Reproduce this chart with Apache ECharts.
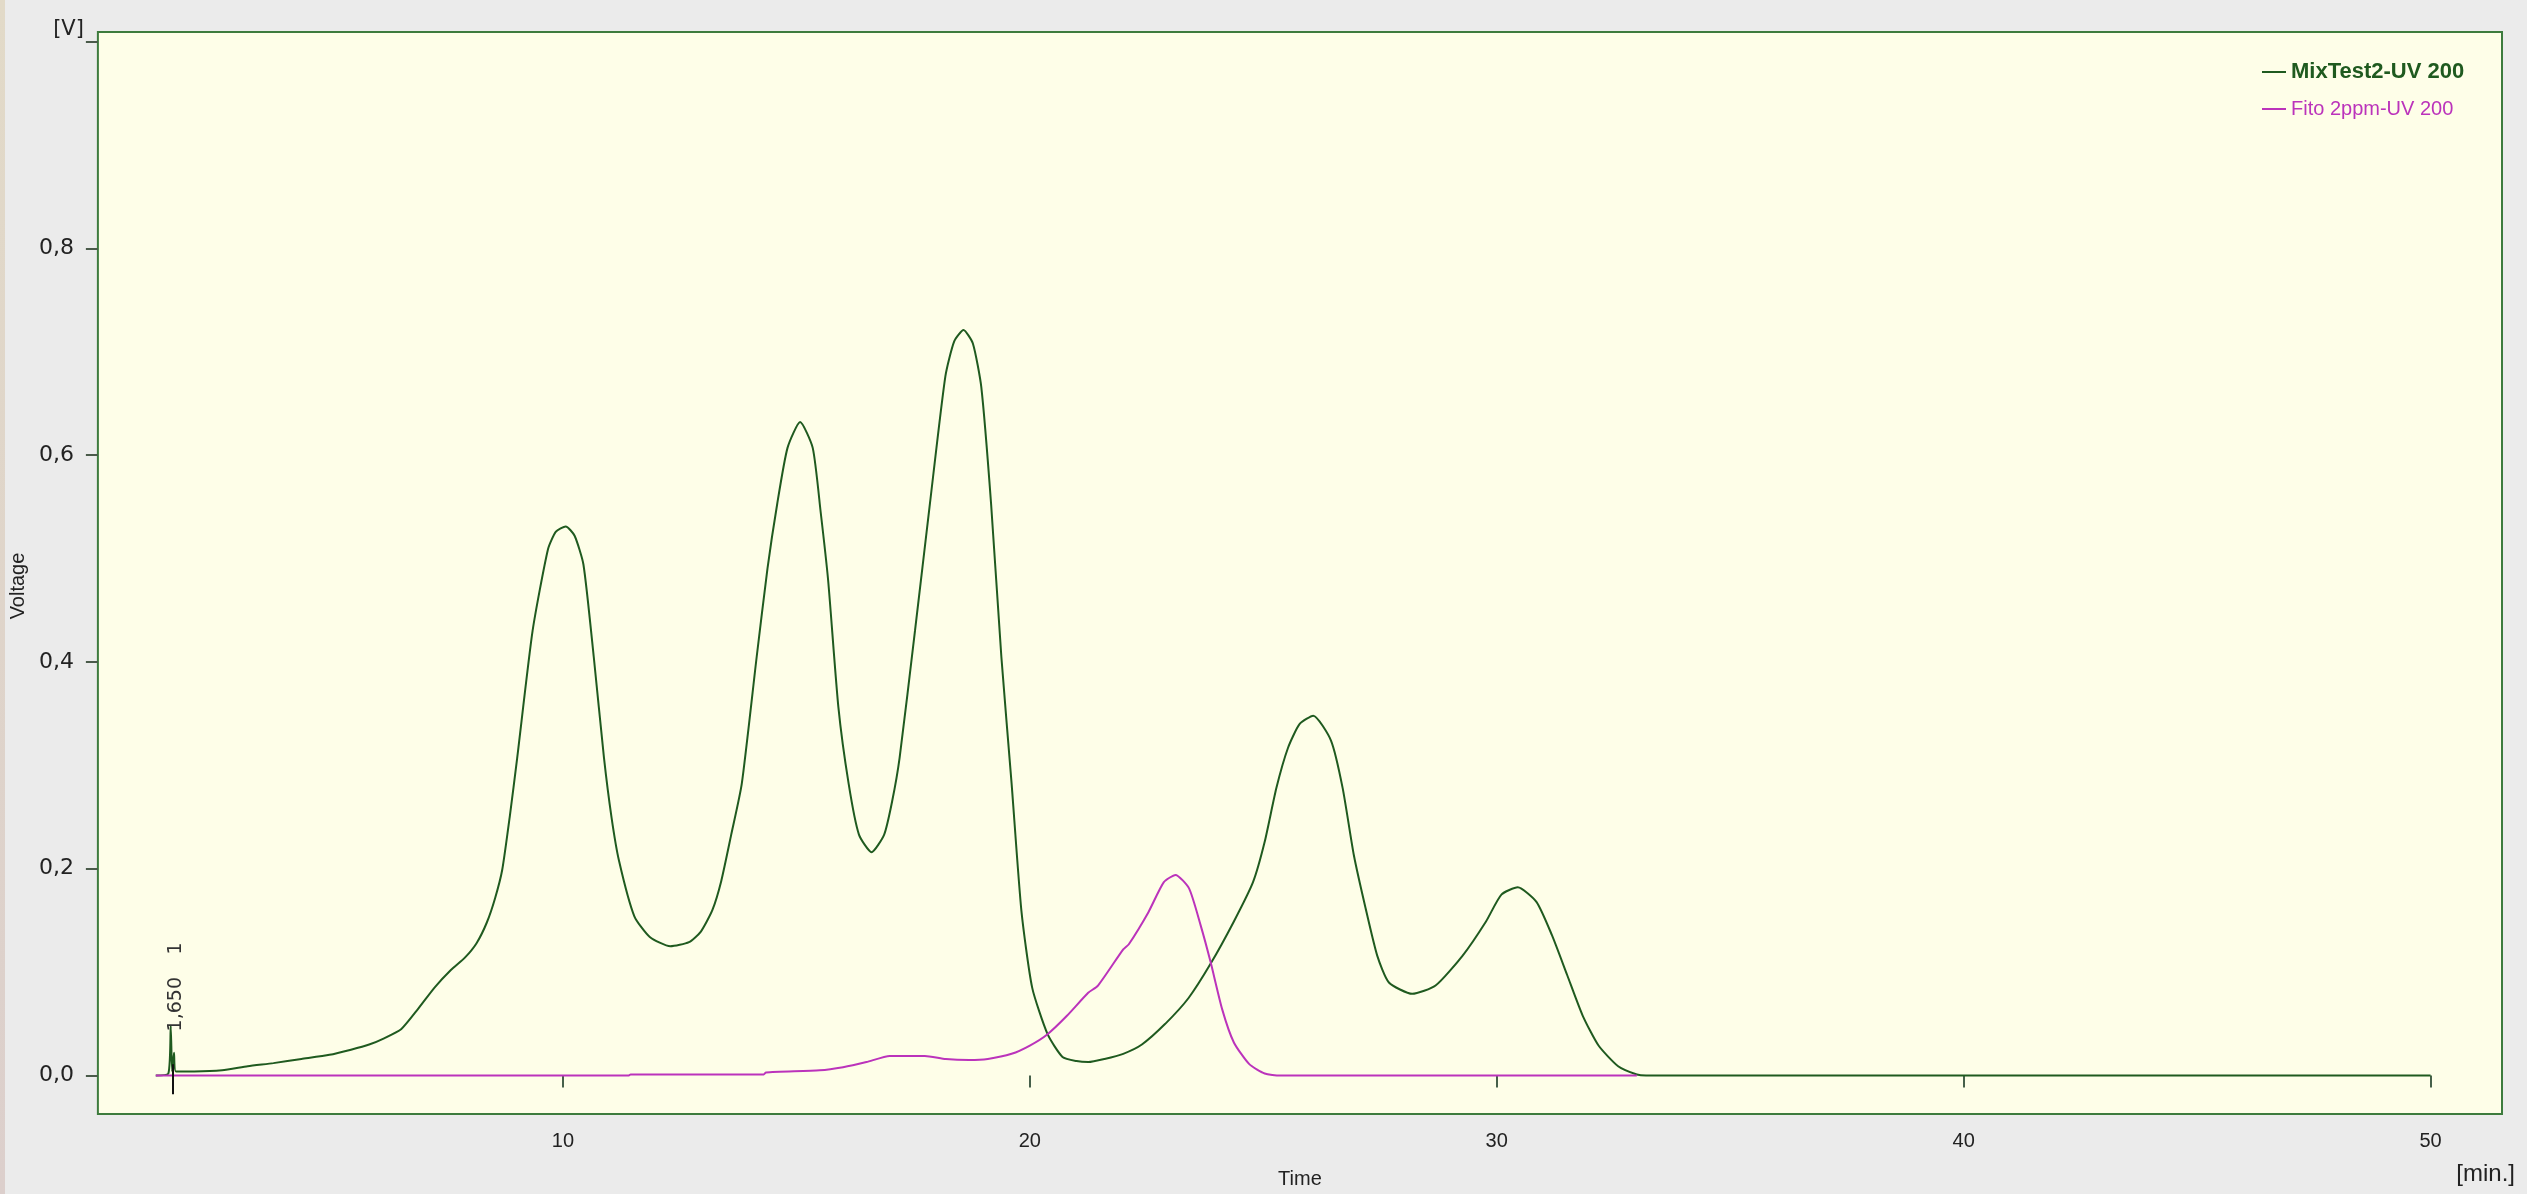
<!DOCTYPE html>
<html>
<head>
<meta charset="utf-8">
<script src="https://cdn.jsdelivr.net/npm/echarts@6/dist/echarts.min.js"></script>
<style>
  html, body { margin: 0; padding: 0; background: #ebebeb; }
  #chart { width: 2527px; height: 1194px; }
</style>
</head>
<body>
<div id="chart"></div>
<script>
// Detector traces: [time in min, signal in V]
const seriesNames = ['MixTest2-UV 200', 'Fito 2ppm-UV 200'];
const xTicks = [10, 20, 30, 40, 50];
const yTicks = [0, 0.2, 0.4, 0.6, 0.8, 1.0];

const mixTest2 = [
  [1.28, 0.000], [1.55, 0.002], [1.60, 0.048], [1.63, 0.004], [1.67, 0.022], [1.71, 0.004],
  [2.1, 0.004], [2.7, 0.005], [3.25, 0.009], [3.8, 0.012], [4.4, 0.016], [5.0, 0.020],
  [5.46, 0.025], [5.85, 0.030], [6.17, 0.036], [6.54, 0.045], [6.89, 0.064], [7.25, 0.085],
  [7.6, 0.102], [7.9, 0.114], [8.15, 0.128], [8.37, 0.148], [8.55, 0.172], [8.70, 0.199],
  [8.86, 0.250], [9.02, 0.307], [9.35, 0.430], [9.68, 0.509], [9.85, 0.526], [10.06, 0.531],
  [10.25, 0.522], [10.44, 0.494], [10.66, 0.405], [10.88, 0.307], [11.04, 0.250], [11.2, 0.208],
  [11.53, 0.154], [11.86, 0.134], [12.3, 0.125], [12.7, 0.129], [12.95, 0.139], [13.2, 0.160],
  [13.39, 0.188], [13.6, 0.232], [13.83, 0.282], [14.15, 0.405], [14.38, 0.490], [14.59, 0.553],
  [14.81, 0.607], [15.08, 0.632], [15.35, 0.607], [15.52, 0.545], [15.68, 0.479], [15.9, 0.356],
  [16.12, 0.282], [16.34, 0.233], [16.61, 0.216], [16.88, 0.233], [17.05, 0.265], [17.21, 0.307],
  [17.54, 0.430], [17.86, 0.553], [18.19, 0.676], [18.38, 0.710], [18.58, 0.721], [18.78, 0.708],
  [18.96, 0.666], [19.17, 0.553], [19.39, 0.405], [19.61, 0.282], [19.82, 0.159], [20.05, 0.085],
  [20.38, 0.040], [20.7, 0.018], [21.0, 0.014], [21.25, 0.013], [21.6, 0.016], [22.0, 0.021],
  [22.4, 0.030], [22.9, 0.050], [23.4, 0.075], [23.87, 0.108], [24.37, 0.149], [24.78, 0.187],
  [25.03, 0.226], [25.28, 0.278], [25.53, 0.317], [25.78, 0.340], [26.07, 0.348], [26.45, 0.324],
  [26.7, 0.278], [26.94, 0.213], [27.19, 0.162], [27.44, 0.116], [27.69, 0.090], [28.19, 0.079],
  [28.69, 0.087], [29.27, 0.116], [29.77, 0.149], [30.1, 0.175], [30.45, 0.182], [30.85, 0.168],
  [31.18, 0.136], [31.51, 0.097], [31.84, 0.058], [32.18, 0.029], [32.6, 0.009], [33.0, 0.001],
  [33.2, 0.000], [50.0, 0.000]
];

const fito2ppm = [
  [1.28, 0.000], [11.4, 0.000], [11.45, 0.001], [14.3, 0.001], [14.35, 0.003], [15.5, 0.005],
  [16.0, 0.008], [16.5, 0.013], [17.0, 0.019], [17.5, 0.019], [17.75, 0.019], [18.2, 0.016],
  [18.7, 0.015], [19.1, 0.016], [19.61, 0.021], [20.0, 0.029], [20.38, 0.040], [20.8, 0.058],
  [21.25, 0.080], [21.46, 0.087], [22.0, 0.122], [22.12, 0.127], [22.54, 0.158], [22.87, 0.187],
  [23.12, 0.194], [23.41, 0.181], [23.66, 0.145], [23.87, 0.110], [24.12, 0.064], [24.37, 0.032],
  [24.7, 0.011], [25.03, 0.002], [25.36, 0.000], [33.0, 0.000]
];

// Integration marker of the injection peak
const peakTime = 1.65;
const peakTimeLabel = '1,650';
const peakNumber = '1';

const axisFont = 'DejaVu Sans';
const textFont = 'Liberation Sans';
const green = '#1f5a1f';
const magenta = '#bb33bb';

const chart = echarts.init(document.getElementById('chart'), null, { renderer: 'canvas' });

chart.setOption({
  animation: false,
  backgroundColor: '#ebebeb',
  grid: {
    left: 97, right: 25, top: 32, bottom: 79,
    show: true,
    backgroundColor: '#fefee8',
    borderColor: '#3d7b3d',
    borderWidth: 2
  },
  legend: {
    orient: 'vertical',
    left: 2262, top: 60,
    padding: 0,
    itemWidth: 24, itemHeight: 2,
    itemGap: 13,
    itemTextGap: 10,
    icon: 'rect',
    textStyle: { fontFamily: textFont, fontSize: 20, lineHeight: 24 },
    data: [
      { name: seriesNames[0], textStyle: { color: green, fontWeight: 'bold', fontSize: 22 } },
      { name: seriesNames[1], textStyle: { color: magenta, fontSize: 20 } }
    ]
  },
  xAxis: {
    type: 'value',
    min: 0.04, max: 51.53,
    name: 'Time',
    nameLocation: 'middle',
    nameGap: 55,
    nameTextStyle: { fontFamily: textFont, fontSize: 20, color: '#222' },
    axisLine: { show: false },
    splitLine: { show: false },
    axisTick: { show: true, length: 12, customValues: xTicks, lineStyle: { color: '#46604a', width: 2 } },
    axisLabel: {
      customValues: xTicks,
      margin: 17,
      fontFamily: textFont, fontSize: 20, color: '#222',
      formatter: v => String(v)
    }
  },
  yAxis: {
    type: 'value',
    min: -0.0372, max: 1.0092,
    name: 'Voltage',
    nameLocation: 'middle',
    nameRotate: 90,
    nameGap: 64,
    nameTextStyle: { fontFamily: textFont, fontSize: 20, color: '#222', padding: [0, 26, 0, 0] },
    axisLine: { show: false },
    splitLine: { show: false },
    axisTick: { show: true, length: 12, customValues: yTicks, lineStyle: { color: '#4a5a4a', width: 2 } },
    axisLabel: {
      customValues: yTicks,
      margin: 14,
      color: '#222',
      formatter: v => (v > 0.99 ? '{u|[V]}' : '{n|' + v.toFixed(1).replace('.', ',') + '}'),
      rich: {
        n: { fontFamily: axisFont, fontSize: 22, color: '#222', padding: [0, 10, 0, 0] },
        u: { fontFamily: axisFont, fontSize: 21, color: '#222', padding: [0, 0, 24, 0] }
      }
    }
  },
  graphic: [
    {
      type: 'rect', left: 0, top: 0, silent: true,
      shape: { width: 5, height: 1194 },
      style: {
        fill: new echarts.graphic.LinearGradient(0, 0, 0, 1, [
          { offset: 0, color: '#e2dac8' }, { offset: 1, color: '#dccfcc' }
        ])
      }
    },
    {
      type: 'text', right: 12, top: 1162, silent: true,
      style: { text: '[min.]', fontFamily: textFont, fontSize: 24, fill: '#222' }
    }
  ],
  series: [
    {
      name: seriesNames[0],
      type: 'line',
      data: mixTest2,
      showSymbol: false,
      smooth: 0.2,
      color: green,
      lineStyle: { color: green, width: 2 },
      z: 2,
      markLine: {
        silent: true,
        symbol: ['none', 'none'],
        label: { show: false },
        lineStyle: { color: '#111', width: 2, type: 'solid' },
        data: [[{ coord: [peakTime, -0.018] }, { coord: [peakTime, 0.011] }]]
      },
      markPoint: {
        silent: true,
        symbol: 'rect',
        symbolSize: 0,
        label: {
          show: true, position: 'inside', rotate: 90,
          fontFamily: axisFont, fontSize: 19, color: '#333'
        },
        data: [
          { coord: [peakTime + 0.07, 0.069], label: { formatter: peakTimeLabel } },
          { coord: [peakTime + 0.07, 0.123], label: { formatter: peakNumber } }
        ]
      }
    },
    {
      name: seriesNames[1],
      type: 'line',
      data: fito2ppm,
      showSymbol: false,
      smooth: 0.2,
      color: magenta,
      lineStyle: { color: magenta, width: 2 },
      z: 3
    }
  ]
});
</script>
</body>
</html>
